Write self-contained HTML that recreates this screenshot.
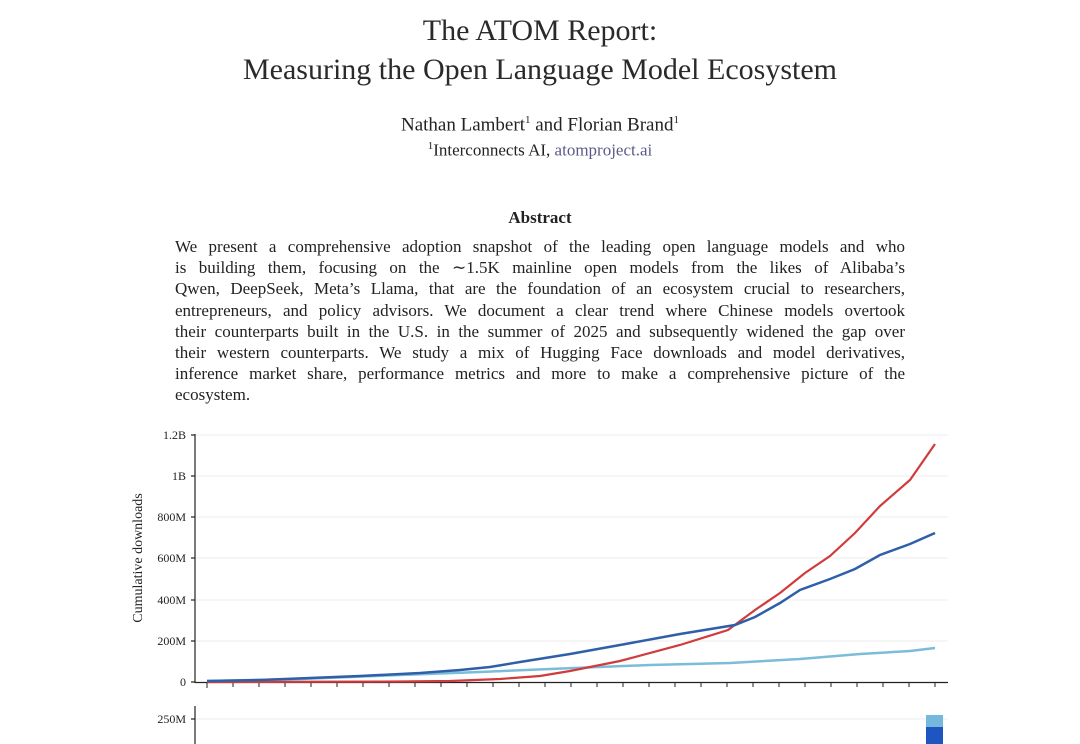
<!DOCTYPE html>
<html><head><meta charset="utf-8"><style>
body{margin:0;width:1080px;height:744px;background:#fff;overflow:hidden;font-family:"Liberation Serif",serif;color:#222;position:relative}
.c{position:absolute;left:0;width:1080px;text-align:center}
.ab{position:absolute;left:175px;width:730px;font-size:17px;}
.ab div{height:21.2px;line-height:21.2px;text-align:justify;text-align-last:justify;white-space:nowrap}
.ab div.l{text-align-last:left}
sup{font-size:11px}
</style></head><body>
<div class="c" style="top:11px;font-size:30px;line-height:39px;color:#2a2a2a">The ATOM Report:<br>Measuring the Open Language Model Ecosystem</div>
<div class="c" style="top:114px;font-size:19px">Nathan Lambert<sup>1</sup> and Florian Brand<sup>1</sup></div>
<div class="c" style="top:140px;font-size:17px"><sup>1</sup>Interconnects AI, <span style="color:#5a5a8a">atomproject.ai</span></div>
<div class="c" style="top:208px;font-size:17px;font-weight:bold">Abstract</div>
<div class="ab" style="top:236px">
<div>We present a comprehensive adoption snapshot of the leading open language models and who</div>
<div>is building them, focusing on the ∼1.5K mainline open models from the likes of Alibaba’s</div>
<div>Qwen, DeepSeek, Meta’s Llama, that are the foundation of an ecosystem crucial to researchers,</div>
<div>entrepreneurs, and policy advisors. We document a clear trend where Chinese models overtook</div>
<div>their counterparts built in the U.S. in the summer of 2025 and subsequently widened the gap over</div>
<div>their western counterparts. We study a mix of Hugging Face downloads and model derivatives,</div>
<div>inference market share, performance metrics and more to make a comprehensive picture of the</div>
<div class="l">ecosystem.</div>
</div>
<svg width="1080" height="744" style="position:absolute;left:0;top:0" font-family="Liberation Serif, serif">
<g stroke="#eee" stroke-width="1">
<line x1="196" x2="948" y1="435" y2="435"/><line x1="196" x2="948" y1="476" y2="476"/><line x1="196" x2="948" y1="517" y2="517"/><line x1="196" x2="948" y1="558" y2="558"/><line x1="196" x2="948" y1="600" y2="600"/><line x1="196" x2="948" y1="641" y2="641"/><line x1="196" x2="948" y1="719" y2="719"/>
</g>
<g stroke="#222" stroke-width="1.2">
<line x1="195" y1="434" x2="195" y2="683"/><line x1="195" y1="682.5" x2="948" y2="682.5"/>
<line x1="195" y1="706" x2="195" y2="744"/>
<line x1="191" x2="195" y1="435" y2="435"/><line x1="191" x2="195" y1="476" y2="476"/><line x1="191" x2="195" y1="517" y2="517"/><line x1="191" x2="195" y1="558" y2="558"/><line x1="191" x2="195" y1="600" y2="600"/><line x1="191" x2="195" y1="641" y2="641"/><line x1="191" x2="195" y1="682" y2="682"/><line x1="191" x2="195" y1="719" y2="719"/>
</g>
<g font-size="12" fill="#222" text-anchor="end">
<text x="186" y="439">1.2B</text><text x="186" y="480">1B</text><text x="186" y="521">800M</text><text x="186" y="562">600M</text><text x="186" y="604">400M</text><text x="186" y="645">200M</text><text x="186" y="686">0</text><text x="186" y="723">250M</text>
</g>
<text transform="translate(142,558) rotate(-90)" font-size="14" text-anchor="middle" fill="#222">Cumulative downloads</text>
<polyline fill="none" stroke="#7bbcd9" stroke-width="2.5" points="207,681 300,679 400,675 480,672 550,669 650,665 730,663 800,659 860,654 910,651 935,648"/>
<polyline fill="none" stroke="#d13b3b" stroke-width="2.2" points="207,682 400,681.5 450,681 500,679 540,676 570,671 620,661 680,645 728,630 755,610 780,593 805,573 830,556 855,533 880,506 910,480 935,444"/>
<polyline fill="none" stroke="#2f5fa8" stroke-width="2.5" points="207,681 260,680 310,678 360,676 420,673 460,670 490,667 520,662 545,658 570,654 620,645 680,634 735,625 755,617 780,603 800,590 830,579 855,569 880,555 910,544 935,533"/>
<rect x="926" y="715" width="17" height="12" fill="#74b9dc"/>
<rect x="926" y="727" width="17" height="17" fill="#1f55c0"/>
<g stroke="#222" stroke-width="1">
<path d="M207 683v5M233 683v4M259 683v4M285 683v4M311 683v4M337 683v4M363 683v4M389 683v4M415 683v4M441 683v4M467 683v4M493 683v4M519 683v4M545 683v4M571 683v4M597 683v4M623 683v4M649 683v4M675 683v4M701 683v4M727 683v4M753 683v4M779 683v4M805 683v4M831 683v4M857 683v4M883 683v4M909 683v4M935 683v4"/>
</g>
</svg>
</body></html>
